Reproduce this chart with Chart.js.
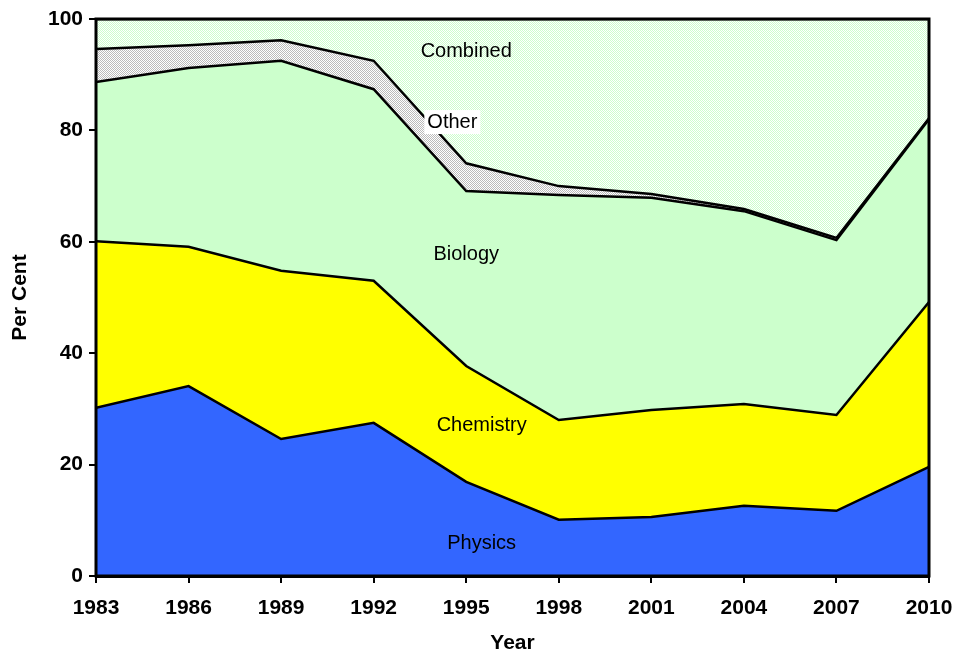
<!DOCTYPE html>
<html>
<head>
<meta charset="utf-8">
<script src="https://cdn.jsdelivr.net/npm/chart.js@4"></script>
<style>
  html, body { margin: 0; padding: 0; background: #fff; }
  #wrap { width: 953px; height: 656px; }
</style>
</head>
<body>
<div id="wrap"><canvas id="chart"></canvas></div>
<script>
const years = [1983, 1986, 1989, 1992, 1995, 1998, 2001, 2004, 2007, 2010];
// share of each subject (per cent), stacked bottom to top
const physics   = [30.2, 34.1, 24.6, 27.5, 16.9, 10.1, 10.6, 12.6, 11.7, 19.6];
const chemistry = [29.9, 25.0, 30.2, 25.5, 20.8, 17.9, 19.2, 18.3, 17.2, 29.6];
const biology   = [28.6, 32.1, 37.7, 34.4, 31.4, 40.4, 38.1, 34.6, 31.4, 32.8];
const other     = [5.9, 4.1, 3.7, 5.1, 5.0, 1.6, 0.7, 0.4, 0.4, 0.2];
const combined  = [5.4, 4.7, 3.8, 7.5, 25.9, 30.0, 31.4, 34.1, 39.3, 17.8];

const yTicks = [0, 20, 40, 60, 80, 100];
const areaLabels = [
    { text: 'Combined',  x: 1995.0, y: 94.1 },
    { text: 'Other',     x: 1994.55, y: 81.5, box: true },
    { text: 'Biology',   x: 1995.0, y: 57.8 },
    { text: 'Chemistry', x: 1995.5, y: 27.1 },
    { text: 'Physics',   x: 1995.5, y: 5.9 }
];

const makePattern = (a, b) => {
    const c = document.createElement('canvas');
    c.width = 2; c.height = 2;
    const g = c.getContext('2d');
    g.fillStyle = b; g.fillRect(0, 0, 2, 2);
    g.fillStyle = a; g.fillRect(0, 0, 1, 1); g.fillRect(1, 1, 1, 1);
    return g.createPattern(c, 'repeat');
};

const pts = (arr) => arr.map((v, i) => ({ x: years[i], y: v }));
const area = (label, data, fillColor, fill) => ({
    label, data: pts(data), backgroundColor: fillColor, fill,
    borderColor: '#000', borderWidth: 2.5, pointRadius: 0, tension: 0
});

const fontFam = '"Liberation Sans", Arial, sans-serif';

const framePlugin = {
    id: 'frame',
    afterDatasetsDraw(chart) {
        const { ctx, chartArea: a, scales } = chart;
        ctx.save();
        ctx.font = '20px ' + fontFam;
        ctx.textAlign = 'center';
        ctx.textBaseline = 'middle';
        areaLabels.forEach(l => {
            const px = scales.x.getPixelForValue(l.x);
            const py = scales.y.getPixelForValue(l.y);
            if (l.box) {
                const w = ctx.measureText(l.text).width;
                ctx.fillStyle = '#fff';
                ctx.fillRect(px - w / 2 - 3, py - 12, w + 6, 24);
            }
            ctx.fillStyle = '#000';
            ctx.fillText(l.text, px, py);
        });
        ctx.strokeStyle = '#000';
        ctx.lineWidth = 3;
        ctx.strokeRect(a.left, a.top, a.right - a.left, a.bottom - a.top);
        ctx.restore();
    }
};

const ctx = document.getElementById('chart').getContext('2d');
new Chart(ctx, {
    type: 'line',
    data: {
        datasets: [
            area('Physics', physics, '#3366FF', 'origin'),
            area('Chemistry', chemistry, '#FFFF00', '-1'),
            area('Biology', biology, '#CCFFCC', '-1'),
            area('Other', other, makePattern('#bbbbbb', '#ffffff'), '-1'),
            area('Combined', combined, makePattern('#CCFFCC', '#ffffff'), '-1')
        ]
    },
    options: {
        responsive: true, maintainAspectRatio: false, animation: false,
        layout: { padding: { top: 19, right: 24, left: 8, bottom: 0 } },
        plugins: { legend: { display: false }, tooltip: { enabled: false } },
        scales: {
            x: {
                type: 'linear', min: 1983, max: 2010,
                afterBuildTicks: (s) => { s.ticks = years.map(v => ({ value: v })); },
                afterFit: (s) => { s.height = 80; s.paddingRight = 0; s.paddingLeft = 0; },
                grid: { drawOnChartArea: false, drawTicks: true, tickLength: 7, color: '#000', lineWidth: 2 },
                border: { display: true, color: '#000', width: 3 },
                ticks: { color: '#000', font: { family: fontFam, size: 21, weight: 'bold' }, padding: 13, maxRotation: 0, autoSkip: false,
                    callback: (v) => String(v) },
                title: { display: true, text: 'Year', color: '#000', font: { family: fontFam, size: 21, weight: 'bold' }, padding: { top: 4, bottom: 0 } }
            },
            y: {
                stacked: true, min: 0, max: 100,
                afterBuildTicks: (s) => { s.ticks = yTicks.map(v => ({ value: v })); },
                afterFit: (s) => { s.width = 88; s.paddingTop = 0; s.paddingBottom = 0; },
                grid: { drawOnChartArea: false, drawTicks: true, tickLength: 7, color: '#000', lineWidth: 2 },
                border: { display: true, color: '#000', width: 3 },
                ticks: { color: '#000', font: { family: fontFam, size: 21, weight: 'bold' }, padding: 6 },
                title: { display: true, text: 'Per Cent', color: '#000', font: { family: fontFam, size: 21, weight: 'bold' }, padding: { top: 0, bottom: 4 } }
            }
        }
    },
    plugins: [framePlugin]
});
</script>
</body>
</html>
